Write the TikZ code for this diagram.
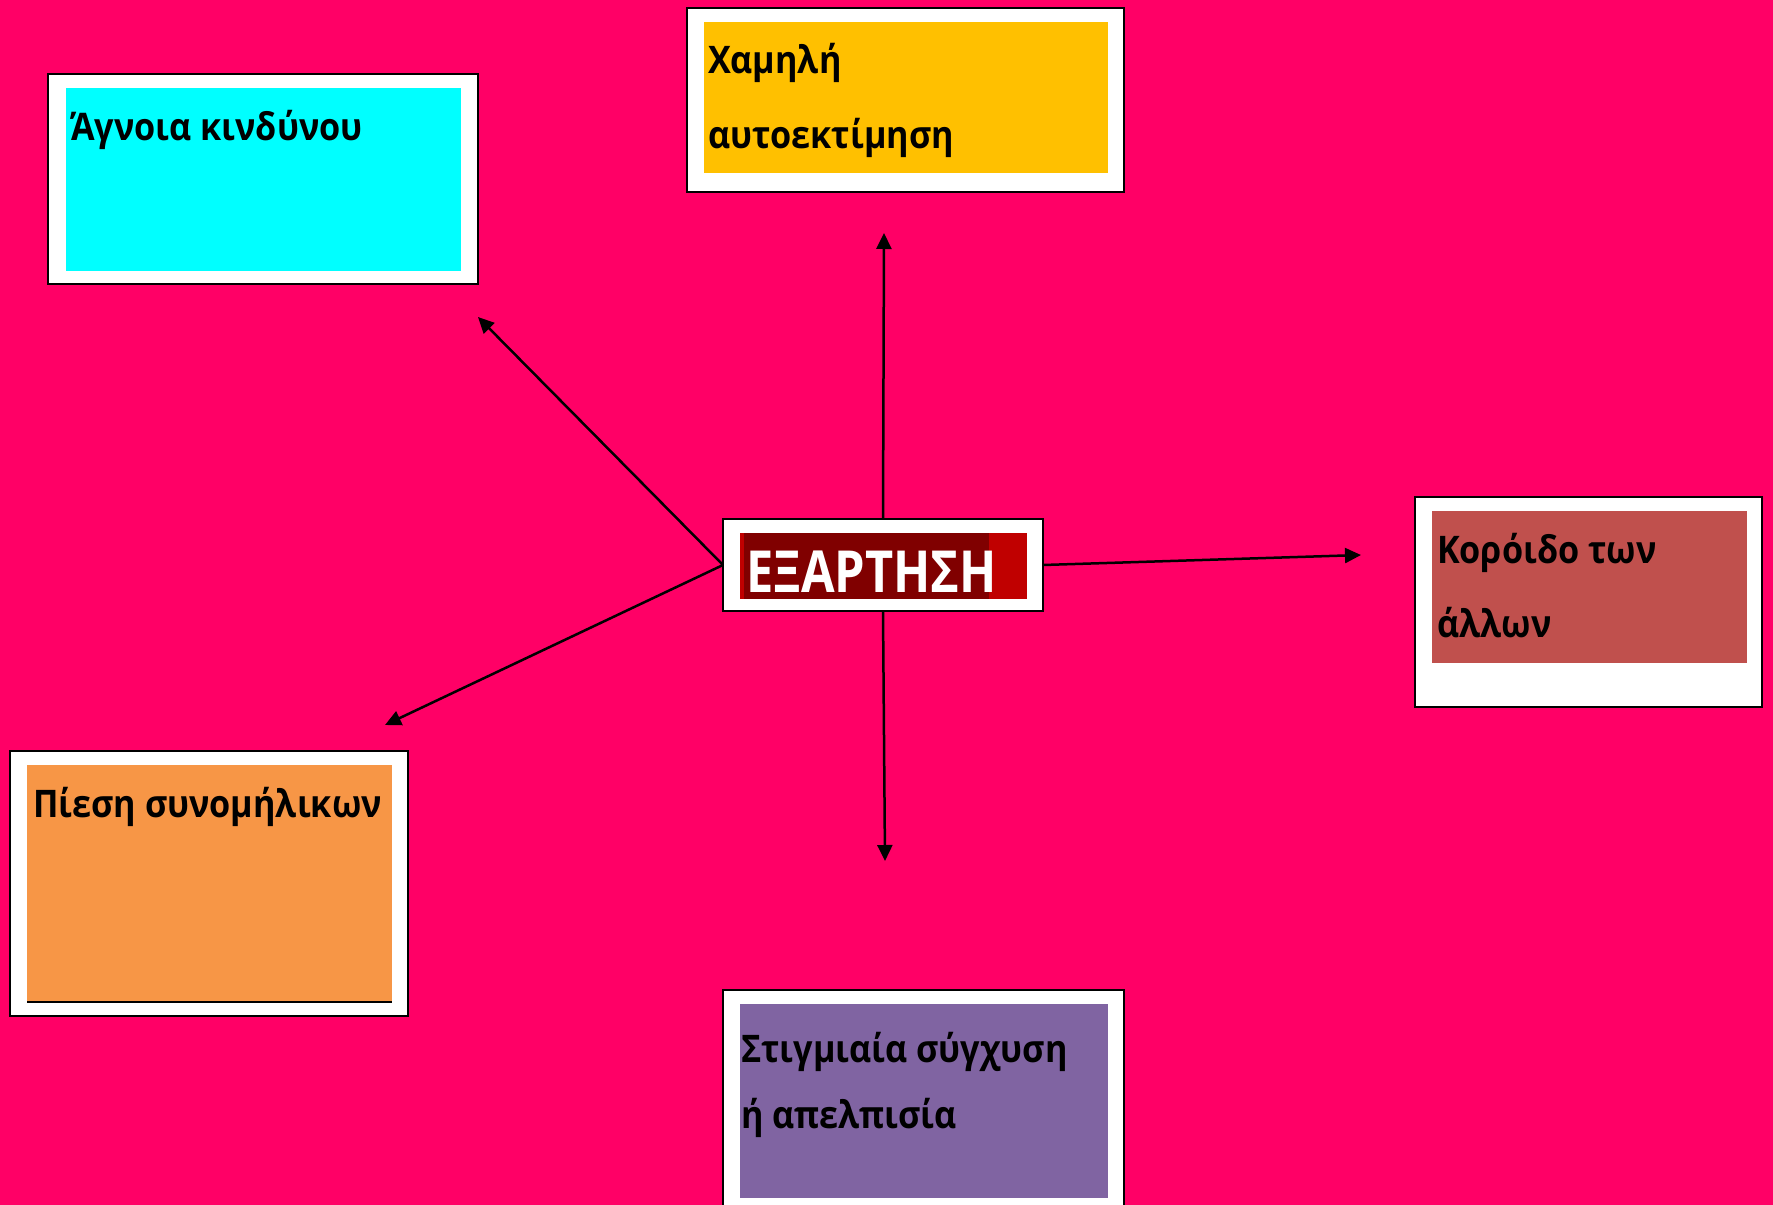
\documentclass[tikz,border=0pt]{standalone}
\usepackage{fontspec}
\setmainfont{Open Sans}
\newfontfamily\lblfam[FakeStretch=0.90]{Open Sans}
\newfontfamily\ctrfam[FakeStretch=0.84]{Open Sans}
\usetikzlibrary{arrows.meta}
\definecolor{bg}{HTML}{FF0066}
\definecolor{cyanp}{HTML}{00FFFF}
\definecolor{goldp}{HTML}{FFC000}
\definecolor{darkred}{HTML}{800000}
\definecolor{brightred}{HTML}{C00000}
\definecolor{rosep}{HTML}{C0504D}
\definecolor{orangep}{HTML}{F79646}
\definecolor{purplep}{HTML}{8064A2}
\begin{document}
\begin{tikzpicture}[x=1pt,y=-1pt,
  frame/.style={draw=black, line width=2.5pt, fill=white, inner sep=0pt, outer sep=0pt},
  panel/.style={draw=none, inner sep=0pt, outer sep=0pt},
  lbl/.style={anchor=base west, inner sep=0pt, outer sep=0pt, text=black, font=\lblfam\bfseries\fontsize{38}{44}\selectfont},
  ctr/.style={anchor=base west, inner sep=0pt, outer sep=0pt, text=white, font=\ctrfam\bfseries\fontsize{58}{64}\selectfont},
  conn/.style={line width=2.5pt, -{Triangle[length=16pt,width=15pt]}}]
\useasboundingbox (0,0) rectangle (1773,1205);
\clip (0,0) rectangle (1773,1205);
\fill[bg] (0,0) rectangle (1773,1205);

% top-left box
\node[frame, minimum width=430, minimum height=210] (b1) at (263,179) {};
\node[panel, fill=cyanp, minimum width=395, minimum height=183] (p1) at (263.5,179.5) {};
\node[lbl] (t1) at (71,140) {Άγνοια κινδύνου};

% top box
\node[frame, minimum width=437, minimum height=184] (b2) at (905.5,100) {};
\node[panel, fill=goldp, minimum width=404, minimum height=151] (p2) at (906,97.5) {};
\node[lbl] (t2a) at (708,73) {Χαμηλή};
\node[lbl] (t2b) at (708,148) {αυτοεκτίμηση};

% centre box
\node[frame, minimum width=320, minimum height=92] (c) at (883,565) {};
\node[panel, fill=brightred, minimum width=287, minimum height=66] (pc) at (883.5,566) {};
\node[panel, fill=darkred, minimum width=245, minimum height=66] (pd) at (866.5,566) {};
\node[ctr] (tc) at (746,592) {ΕΞΑΡΤΗΣΗ};

% right box
\node[frame, minimum width=347, minimum height=210] (b3) at (1588.5,602) {};
\node[panel, fill=rosep, minimum width=315, minimum height=152] (p3) at (1589.5,587) {};
\node[lbl] (t3a) at (1437,563) {Κορόιδο των};
\node[lbl] (t3b) at (1437,637) {άλλων};

% bottom-left box
\node[frame, minimum width=398, minimum height=265] (b4) at (209,883.5) {};
\node[panel, fill=orangep, minimum width=365, minimum height=237] (p4) at (209.5,883.5) {};
\draw[line width=2pt] (p4.south west) -- (p4.south east);
\node[lbl] (t4) at (33,817) {Πίεση συνομήλικων};

% bottom box
\node[frame, minimum width=401, minimum height=240] (b5) at (923.5,1110) {};
\node[panel, fill=purplep, minimum width=368, minimum height=194] (p5) at (924,1101) {};
\node[lbl] (t5a) at (741,1062) {Στιγμιαία σύγχυση};
\node[lbl] (t5b) at (741,1128) {ή απελπισία};

% connector ends
\coordinate (eUp) at (884,233);
\coordinate (eNW) at (478,317);
\coordinate (eE) at (1361,555);
\coordinate (eS) at (885,861);
\coordinate (eSW) at (385,725);

\draw[conn] (c.north) -- (eUp);
\draw[conn] (c.west) -- (eNW);
\draw[conn] (c.east) -- (eE);
\draw[conn] (c.south) -- (eS);
\draw[conn] (c.west) -- (eSW);
\end{tikzpicture}
\end{document}
